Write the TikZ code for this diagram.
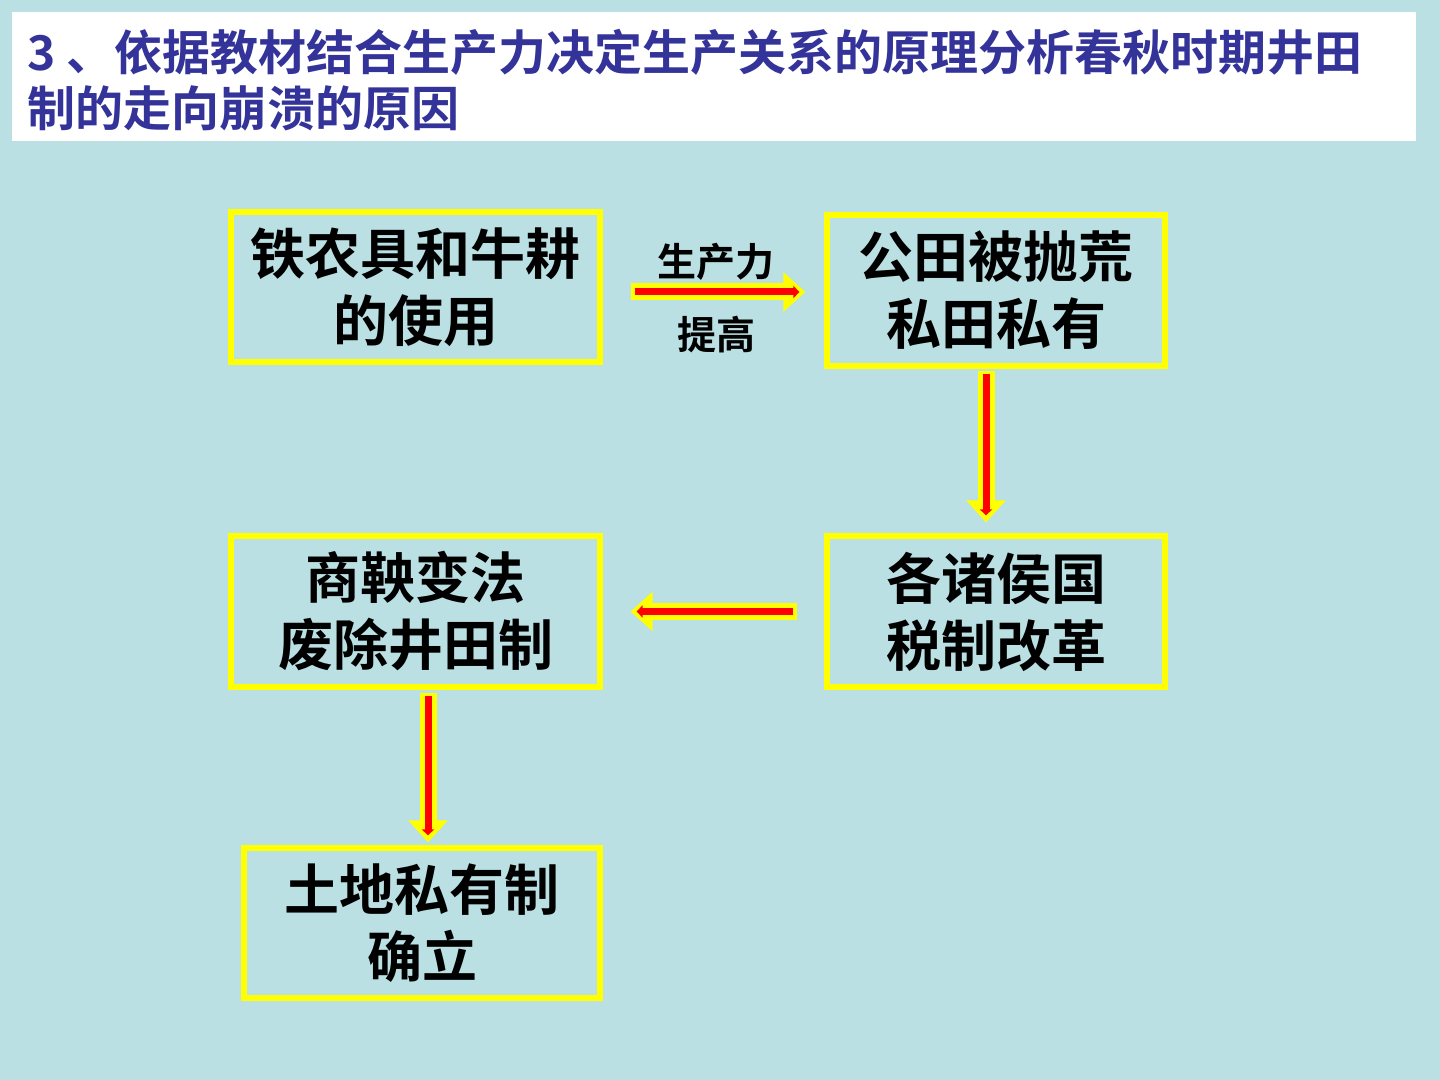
\documentclass[tikz,border=0pt]{standalone}
\usepackage{fontspec}
\setmainfont{Noto Sans CJK SC}[BoldFont={Noto Sans CJK SC Bold}]
\usetikzlibrary{arrows.meta}
\definecolor{bgc}{HTML}{BBE0E3}
\definecolor{titlec}{HTML}{333399}
\definecolor{yel}{HTML}{FFFF00}
\definecolor{redc}{HTML}{FF0000}
\tikzset{
  box/.style={draw=yel, line width=2.6pt, align=center, inner sep=0pt,
    font=\fontsize{27.5}{33.5}\selectfont\bfseries, text=black},
  lbl/.style={font=\fontsize{19.5}{22}\selectfont\bfseries, text=black, inner sep=0pt},
  yarr/.style={draw=yel, line width=8.5pt, -{Triangle[width=19pt,length=11pt]}},
  rarr/.style={draw=redc, line width=3.5pt, -{Triangle[width=6pt,length=3pt]}},
}
\begin{document}
\begin{tikzpicture}[x=0.5pt,y=-0.5pt]
\fill[bgc] (0,0) rectangle (1440,1080);
\useasboundingbox (0,0) rectangle (1440,1080);
\fill[white] (12,12) rectangle (1416,141);
\node[anchor=west, align=left, inner sep=0pt, text=titlec,
  font=\fontsize{24}{28}\selectfont\bfseries] (title) at (27,80)
  {3 、依据教材结合生产力决定生产关系的原理分析春秋时期井田\\制的走向崩溃的原因};

\node[box, minimum width=184.5pt, minimum height=75pt] (b1) at (415.5,287) {铁农具和牛耕\\的使用};
\node[box, minimum width=169pt, minimum height=75.5pt] (b2) at (996,290.5) {公田被抛荒\\私田私有};
\node[box, minimum width=169pt, minimum height=75.5pt] (b3) at (996,611.5) {各诸侯国\\税制改革};
\node[box, minimum width=184.5pt, minimum height=75.5pt] (b4) at (415.5,611.5) {商鞅变法\\废除井田制};
\node[box, minimum width=178pt, minimum height=75pt] (b5) at (422,923) {土地私有制\\确立};

\node[lbl] (l1) at (716,262) {生产力};
\node[lbl] (l2) at (716,335) {提高};

% arrow 1: b1 -> b2
\draw[yarr, shorten <=14pt, shorten >=9.5pt] ([yshift=-2.5pt]b1.east) -- ([yshift=-0.75pt]b2.west);
\draw[rarr, shorten <=16pt, shorten >=12.5pt] ([yshift=-2.5pt]b1.east) -- ([yshift=-0.75pt]b2.west);
% arrow 2: b2 -> b3
\draw[yarr, shorten <=1pt, shorten >=5.5pt] ([xshift=-5pt]b2.south) -- ([xshift=-5pt]b3.north);
\draw[rarr, shorten <=2.5pt, shorten >=9pt] ([xshift=-5pt]b2.south) -- ([xshift=-5pt]b3.north);
% arrow 3: b3 -> b4
\draw[yarr, shorten <=13.5pt, shorten >=14pt] (b3.west) -- (b4.east);
\draw[rarr, shorten <=15.5pt, shorten >=17pt] (b3.west) -- (b4.east);
% arrow 4: b4 -> b5
\draw[yarr, shorten <=1.5pt, shorten >=1.5pt] ([xshift=6.25pt]b4.south) -- ([xshift=3pt]b5.north);
\draw[rarr, shorten <=3pt, shorten >=5pt] ([xshift=6.25pt]b4.south) -- ([xshift=3pt]b5.north);
\end{tikzpicture}
\end{document}
